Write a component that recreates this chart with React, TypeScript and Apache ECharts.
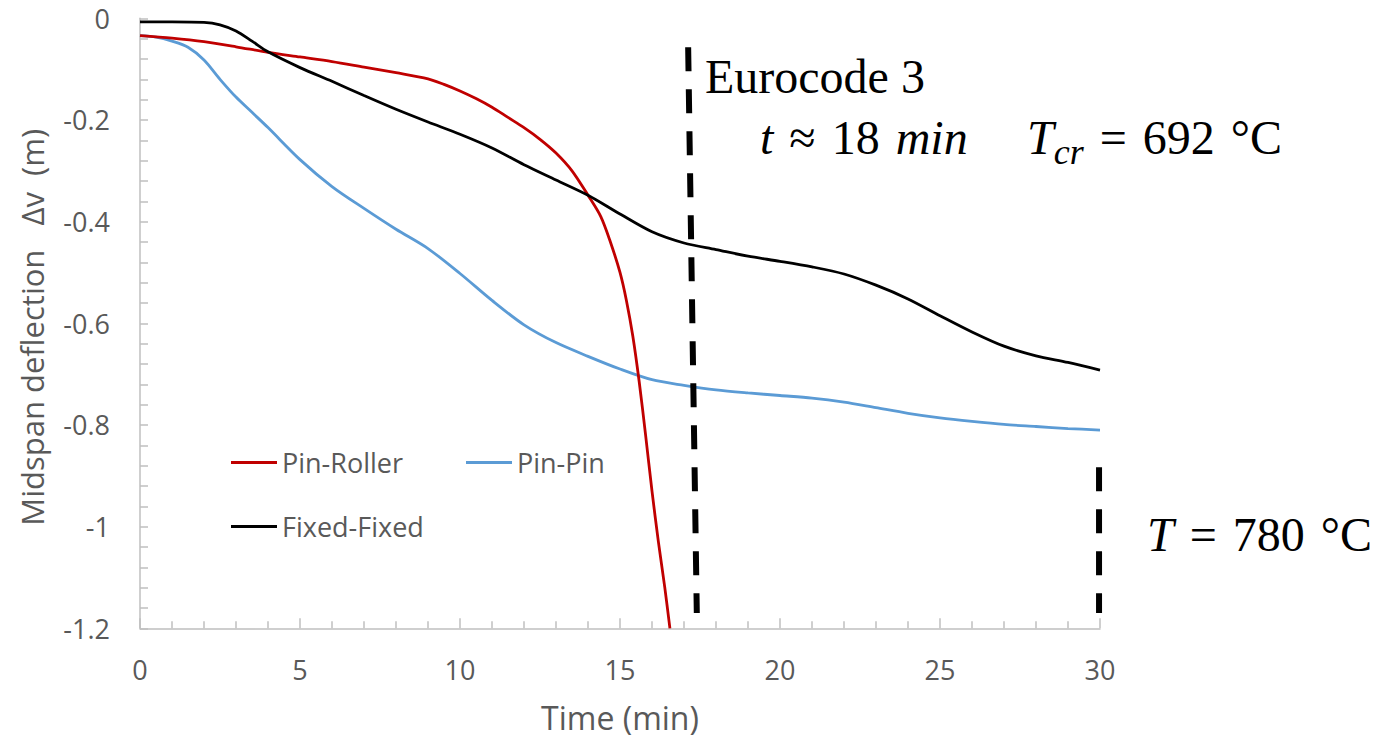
import React, { useEffect, useRef } from "react";
import * as echarts from "echarts";

// ---- Data ----
const pinRollerTime = [0, 1, 2, 3, 4, 5, 6, 7, 8, 9, 9.5, 10, 10.5, 11, 11.5, 12, 12.5, 13, 13.5, 14, 14.4, 14.7, 15.0, 15.2, 15.4, 15.6, 15.8, 16.0, 16.2, 16.4, 16.56];
const pinRollerDefl = [-0.034, -0.039, -0.046, -0.056, -0.067, -0.076, -0.085, -0.096, -0.107, -0.119, -0.13, -0.143, -0.158, -0.175, -0.195, -0.215, -0.238, -0.265, -0.3, -0.348, -0.39, -0.44, -0.5, -0.555, -0.625, -0.715, -0.82, -0.93, -1.03, -1.12, -1.2];

const pinPinTime = [0, 0.5, 1, 1.5, 2, 2.5, 3, 3.5, 4, 5, 6, 7, 8, 9, 10, 11, 12, 13, 14, 15, 16, 17, 18, 19, 20, 21, 22, 23, 24, 25, 26, 27, 28, 29, 30];
const pinPinDefl = [-0.034, -0.037, -0.045, -0.057, -0.082, -0.12, -0.155, -0.185, -0.215, -0.278, -0.331, -0.374, -0.415, -0.453, -0.502, -0.555, -0.603, -0.638, -0.665, -0.69, -0.711, -0.722, -0.731, -0.737, -0.742, -0.747, -0.755, -0.766, -0.777, -0.786, -0.793, -0.799, -0.803, -0.807, -0.81];

const fixedTime = [0, 1, 2, 2.5, 3, 3.5, 4, 5, 6, 7, 8, 9, 10, 11, 12, 13, 14, 15, 16, 17, 18, 19, 20, 21, 22, 23, 24, 25, 26, 27, 28, 29, 30];
const fixedDefl = [-0.007, -0.007, -0.008, -0.013, -0.025, -0.045, -0.066, -0.097, -0.124, -0.152, -0.179, -0.204, -0.228, -0.255, -0.288, -0.318, -0.348, -0.385, -0.42, -0.442, -0.455, -0.468, -0.478, -0.489, -0.503, -0.525, -0.552, -0.585, -0.617, -0.645, -0.664, -0.677, -0.692];

// Marker lines (time, deflection)
const eurocodeLineTime = [17.13, 17.4];
const eurocodeLineDefl = [-0.057, -1.17];
const endLineTime = [29.97, 29.97];
const endLineDefl = [-0.883, -1.17];

const seriesNames = ["Pin-Roller", "Pin-Pin", "Fixed-Fixed"];
const xTicks = { min: 0, max: 30, interval: 5 };
const yTicks = { min: -1.2, max: 0, interval: 0.2 };

const zip = (a: number[], b: number[]) => a.map((v, i) => [v, b[i]]);

export default function App() {
  const ref = useRef<HTMLDivElement>(null);

  useEffect(() => {
    if (!ref.current) return;
    const chart = echarts.init(ref.current, null, { renderer: "svg" });
    const grey = "#595959";
    const axisGrey = "#bfbfbf";
    const tickFont = "'Open Sans', sans-serif";
    const serif = "'Liberation Serif', 'Times New Roman', serif";
    const sp = "\u2004";

    const legendBase = {
      icon: "rect",
      itemWidth: 46,
      itemHeight: 3,
      itemGap: 5,
      padding: 0,
      textStyle: { fontFamily: tickFont, fontSize: 27, color: grey },
      selectedMode: false as const,
    };

    const italic = { fontFamily: serif, fontStyle: "italic", fontSize: 48, fill: "#000" };

    chart.setOption({
      animation: false,
      backgroundColor: "#ffffff",
      grid: {
        left: 140,
        right: 287,
        top: 18.3,
        bottom: 109.7,
        containLabel: false,
        outerBoundsMode: "none",
      },
      legend: [
        { ...legendBase, data: [seriesNames[0]], left: 231, top: 449 },
        { ...legendBase, data: [seriesNames[1]], left: 466, top: 449 },
        { ...legendBase, data: [seriesNames[2]], left: 231, top: 513 },
      ],
      xAxis: {
        type: "value",
        min: xTicks.min,
        max: xTicks.max,
        interval: xTicks.interval,
        name: "Time (min)",
        nameLocation: "middle",
        nameGap: 73,
        nameTextStyle: { fontFamily: tickFont, fontSize: 32, color: grey },
        axisLine: { onZero: false, lineStyle: { color: axisGrey, width: 1.5 } },
        axisTick: { show: true, inside: true, length: 10, lineStyle: { color: axisGrey, width: 1.5 } },
        minorTick: { show: true, splitNumber: 5, length: 7, lineStyle: { color: axisGrey, width: 1.5 } },
        axisLabel: { fontFamily: tickFont, fontSize: 27, color: grey, margin: 28 },
        splitLine: { show: false },
      },
      yAxis: {
        type: "value",
        min: yTicks.min,
        max: yTicks.max,
        interval: yTicks.interval,
        name: "Midspan deflection   \u0394v  (m) ",
        nameLocation: "middle",
        nameGap: 93,
        nameTextStyle: { fontFamily: tickFont, fontSize: 31, color: grey },
        axisLine: { show: true, onZero: false, lineStyle: { color: axisGrey, width: 1.5 } },
        axisTick: { show: true, inside: true, length: 8, lineStyle: { color: axisGrey, width: 1.5 } },
        minorTick: { show: true, splitNumber: 5, length: 8, lineStyle: { color: axisGrey, width: 1.5 } },
        axisLabel: { fontFamily: tickFont, fontSize: 27, color: grey, margin: 30 },
        splitLine: { show: false },
      },
      series: [
        {
          name: seriesNames[0],
          type: "line",
          data: zip(pinRollerTime, pinRollerDefl),
          showSymbol: false,
          symbol: "none",
          smooth: 0.3,
          clip: true,
          color: "#C00000",
          lineStyle: { color: "#C00000", width: 2.8 },
          z: 3,
        },
        {
          name: seriesNames[1],
          type: "line",
          data: zip(pinPinTime, pinPinDefl),
          showSymbol: false,
          symbol: "none",
          smooth: 0.3,
          color: "#5B9BD5",
          lineStyle: { color: "#5B9BD5", width: 2.8 },
          z: 2,
        },
        {
          name: seriesNames[2],
          type: "line",
          data: zip(fixedTime, fixedDefl),
          showSymbol: false,
          symbol: "none",
          smooth: 0.3,
          color: "#000000",
          lineStyle: { color: "#000000", width: 2.8 },
          z: 4,
        },
        {
          name: "eurocode-line",
          type: "line",
          data: zip(eurocodeLineTime, eurocodeLineDefl),
          symbol: "none",
          silent: true,
          clip: false,
          lineStyle: { color: "#000000", width: 6, type: [24, 18], cap: "butt" },
          z: 5,
        },
        {
          name: "end-line",
          type: "line",
          data: zip(endLineTime, endLineDefl),
          symbol: "none",
          silent: true,
          clip: false,
          lineStyle: { color: "#000000", width: 6, type: [24, 18], cap: "butt" },
          z: 5,
        },
      ],
      graphic: [
        {
          type: "text",
          left: 705,
          top: 52,
          style: { text: "Eurocode 3", fontFamily: serif, fontSize: 48, fill: "#000" },
        },
        {
          type: "text",
          left: 760,
          top: 113,
          style: {
            text: `{i|t}${sp}\u2248${sp}18${sp}{i|min}`,
            fontFamily: serif,
            fontSize: 48,
            fill: "#000",
            rich: { i: italic },
          },
        },
        {
          type: "text",
          left: 1027,
          top: 113,
          style: {
            text: `{i|T}{s|cr}${sp}=${sp}692${sp}\u00B0C`,
            fontFamily: serif,
            fontSize: 48,
            fill: "#000",
            rich: {
              i: italic,
              s: { fontFamily: serif, fontStyle: "italic", fontSize: 36, fill: "#000", padding: [30, 0, 0, 0] },
            },
          },
        },
        {
          type: "text",
          left: 1147,
          top: 510,
          style: {
            text: `{i|T}${sp}=${sp}780${sp}\u00B0C`,
            fontFamily: serif,
            fontSize: 48,
            fill: "#000",
            rich: { i: italic },
          },
        },
      ],
    });

    return () => chart.dispose();
  }, []);

  return (
    <div
      ref={ref}
      style={{ position: "absolute", left: 0, top: 0, width: 1387, height: 738, background: "#fff" }}
    />
  );
}
